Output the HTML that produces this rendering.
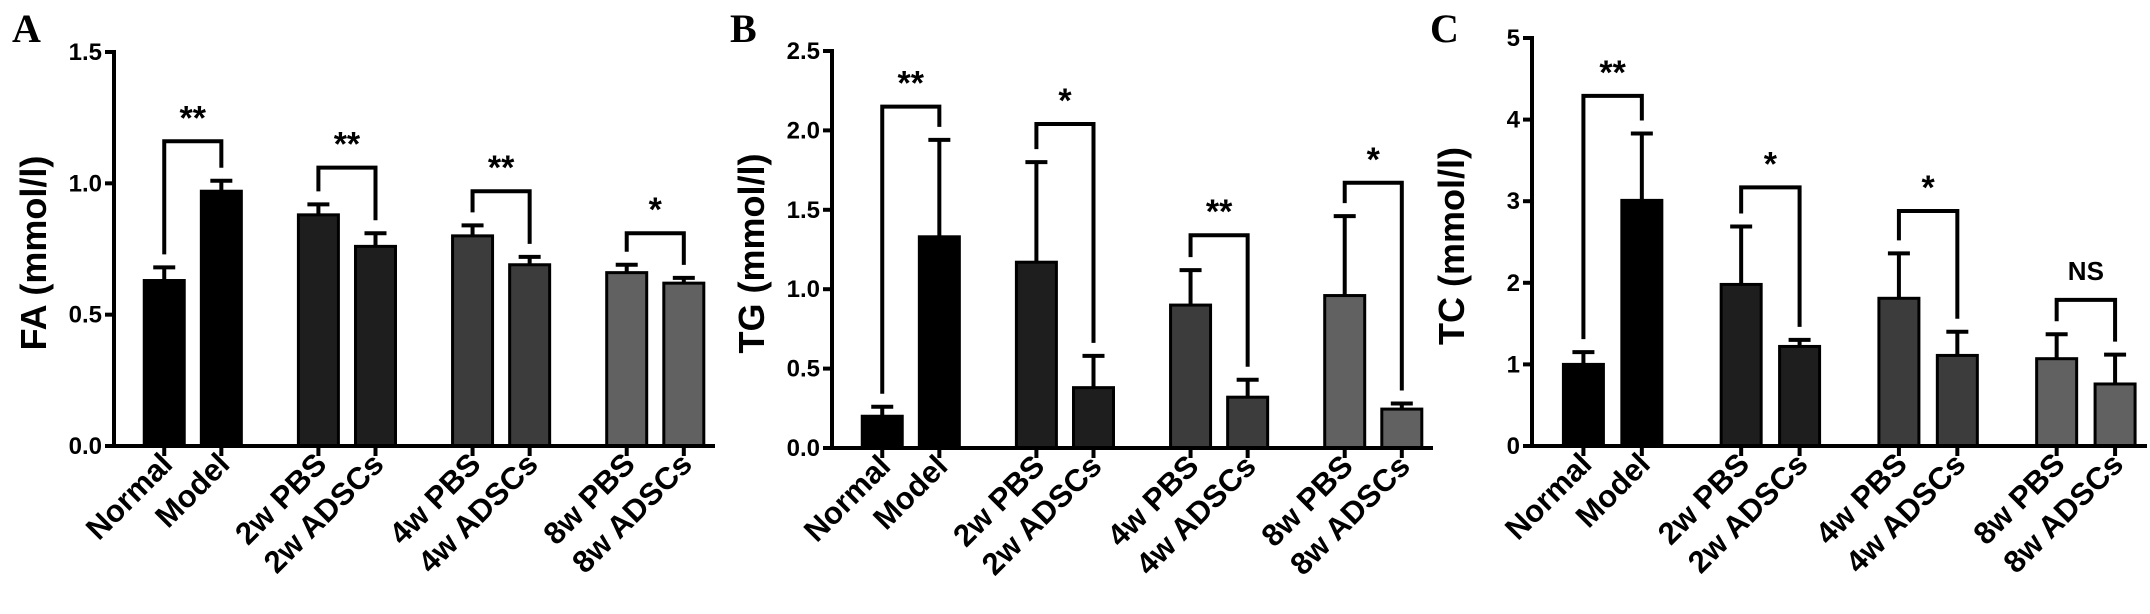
<!DOCTYPE html>
<html><head><meta charset="utf-8"><style>
html,body{margin:0;padding:0;background:#fff}
svg{display:block}
text{font-family:"Liberation Sans",Arial,sans-serif;font-weight:bold;fill:#000}
</style></head><body>
<svg id="fig" width="2150" height="614" viewBox="0 0 2150 614" xmlns="http://www.w3.org/2000/svg"></svg>
<script>
const categories = ["Normal","Model","2w PBS","2w ADSCs","4w PBS","4w ADSCs","8w PBS","8w ADSCs"];
const faMeans = [0.63,0.97,0.88,0.76,0.80,0.69,0.66,0.62];
const faErr   = [0.05,0.04,0.04,0.05,0.04,0.03,0.03,0.02];
const tgMeans = [0.20,1.33,1.17,0.38,0.90,0.32,0.96,0.245];
const tgErr   = [0.06,0.61,0.63,0.20,0.22,0.11,0.50,0.035];
const tcMeans = [1.00,3.01,1.98,1.22,1.81,1.11,1.07,0.76];
const tcErr   = [0.15,0.82,0.71,0.08,0.55,0.29,0.30,0.36];
const faTicks = ["0.0","0.5","1.0","1.5"];
const tgTicks = ["0.0","0.5","1.0","1.5","2.0","2.5"];
const tcTicks = ["0","1","2","3","4","5"];
const faSig = ["**","**","**","*"];
const tgSig = ["**","*","**","*"];
const tcSig = ["**","*","*","NS"];
const faBracket = [1.16,1.06,0.97,0.81];
const tgBracket = [2.15,2.04,1.34,1.67];
const tcBracket = [4.29,3.17,2.88,1.79];

const NS="http://www.w3.org/2000/svg";
const svg=document.getElementById('fig');
function mk(tag,attrs,parent){const e=document.createElementNS(NS,tag);for(const k in attrs)e.setAttribute(k,attrs[k]);(parent||svg).appendChild(e);return e;}
const fills=["#000","#000","#1e1e1e","#1e1e1e","#3c3c3c","#3c3c3c","#616161","#616161"];
const slots=[0,1,2.7,3.7,5.4,6.4,8.1,9.1];

function panel(o){
  const g=mk('g',{});
  
  
  const yMax=Number(o.ticks[o.ticks.length-1]);
  const y=v=>o.y0-(v/yMax)*(o.y0-o.yTop);
  const step=(o.xEnd-o.ax)*0.095;
  const x=i=>o.ax+step*0.88+slots[i]*step;
  const bw=40;
  const L=mk('text',{x:o.ax-102,y:42,'font-size':40},g);
  L.style.fontFamily='"Liberation Serif",serif';
  L.textContent=o.letter;
  
  
  o.ticks.forEach(t=>{
    const yy=y(Number(t));
    mk('line',{x1:o.ax-9,x2:o.ax,y1:yy,y2:yy,stroke:'#000','stroke-width':4},g);
    const tx=mk('text',{x:o.ax-12,y:yy+8,'font-size':24,'text-anchor':'end'},g);
    tx.textContent=t;
    
    
  });
  const yt=mk('text',{x:0,y:0,'font-size':36,'text-anchor':'middle',transform:`translate(${o.ax-68},${(o.y0+o.yTop)/2+4}) rotate(-90)`},g);
  yt.textContent=o.title;
  
  
  o.means.forEach((m,i)=>{
    const cx=x(i), top=y(m), et=y(m+o.err[i]);
    mk('line',{x1:cx,x2:cx,y1:top,y2:et,stroke:'#000','stroke-width':4},g);
    mk('line',{x1:cx-11,x2:cx+11,y1:et,y2:et,stroke:'#000','stroke-width':4},g);
    const r=mk('rect',{x:cx-bw/2,y:top,width:bw,height:o.y0-top,fill:fills[i],stroke:'#000','stroke-width':3},g);
    
    
    mk('line',{x1:cx,x2:cx,y1:o.y0,y2:o.y0+10,stroke:'#000','stroke-width':4},g);
    const lt=mk('text',{x:0,y:0,'font-size':31,'text-anchor':'end',transform:`translate(${cx+10},${o.y0+20}) rotate(-45)`},g);
    lt.textContent=categories[i];
    
    
  });
  mk('line',{x1:o.ax,x2:o.ax,y1:o.yTop-2,y2:o.y0+2,stroke:'#000','stroke-width':4},g);
  mk('line',{x1:o.ax-2,x2:o.xEnd,y1:o.y0,y2:o.y0,stroke:'#000','stroke-width':4},g);
  o.brackets.forEach((b,k)=>{
    const i=2*k,j=2*k+1, by=y(b);
    const l1=y(o.means[i]+o.err[i])-13, l2=y(o.means[j]+o.err[j])-13;
    const p=mk('path',{d:`M${x(i)},${l1} V${by} H${x(j)} V${l2}`,fill:'none',stroke:'#000','stroke-width':4},g);
    
    
    const s=mk('text',{x:(x(i)+x(j))/2,y:o.sig[k]==='NS'?by-20:by-12,'font-size':o.sig[k]==='NS'?26:34,'text-anchor':'middle'},g);
    s.textContent=o.sig[k];
    
    
  });
}
panel({id:'fa',letter:'A',ax:114,xEnd:715,yTop:52,y0:446,ticks:faTicks,means:faMeans,err:faErr,brackets:faBracket,sig:faSig,title:'FA (mmol/l)'});
panel({id:'tg',letter:'B',ax:832,xEnd:1433,yTop:51,y0:448,ticks:tgTicks,means:tgMeans,err:tgErr,brackets:tgBracket,sig:tgSig,title:'TG (mmol/l)'});
panel({id:'tc',letter:'C',ax:1532,xEnd:2147,yTop:38,y0:446,ticks:tcTicks,means:tcMeans,err:tcErr,brackets:tcBracket,sig:tcSig,title:'TC (mmol/l)'});
</script>
</body></html>
